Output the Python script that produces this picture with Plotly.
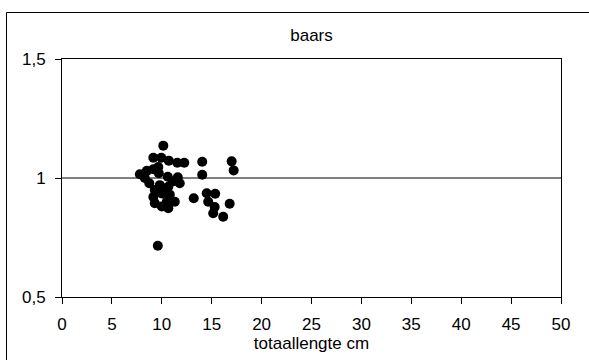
import plotly.graph_objects as go

title = "baars"
x_title = "totaallengte cm"
x_ticks = [0, 5, 10, 15, 20, 25, 30, 35, 40, 45, 50]
y_ticks = [0.5, 1, 1.5]
ref_level = 1

lengte = [10.15, 9.15, 9.95, 10.7, 11.55, 12.25, 14.05, 17.0, 17.2, 14.05,
          7.8, 8.5, 9.15, 9.65, 10.6, 11.6, 11.1, 11.8, 8.75, 9.8,
          9.3, 10.65, 9.15, 10.0, 10.8, 9.3, 10.5, 11.3, 10.65, 10.0,
          13.2, 14.5, 15.35, 14.65, 15.3, 16.8, 15.15, 16.15, 9.6, 10.15,
          8.3, 9.7]
ratio = [1.136, 1.085, 1.085, 1.073, 1.064, 1.064, 1.068, 1.070, 1.032, 1.014,
         1.016, 1.030, 1.037, 1.046, 1.005, 1.003, 0.985, 0.978, 0.978, 0.970,
         0.950, 0.963, 0.920, 0.935, 0.930, 0.894, 0.900, 0.900, 0.873, 0.880,
         0.915, 0.936, 0.934, 0.900, 0.878, 0.892, 0.852, 0.837, 0.715, 0.955,
         1.000, 1.020]

W, H = 589, 360
L, R, T, B = 62, 561, 59, 297

fig = go.Figure()
fig.add_trace(go.Scatter(
    x=lengte, y=ratio, mode="markers",
    marker=dict(color="black", size=10, line=dict(width=0)),
    showlegend=False, hoverinfo="skip"))

font = dict(family="Liberation Sans, Arial, sans-serif", size=17, color="black")

fig.update_layout(
    width=W, height=H,
    margin=dict(l=L, r=W - R, t=T, b=H - B, pad=0),
    paper_bgcolor="white", plot_bgcolor="white",
    separators=",.",
    font=font,
    title=dict(text=title, x=(L + R) / 2 / W, xanchor="center",
               y=1 - 35 / H, yanchor="middle", font=font),
    xaxis=dict(range=[0, 50], tickvals=x_ticks, showgrid=False, zeroline=False,
               showline=True, linecolor="black", linewidth=1, mirror=True,
               ticks="outside", ticklen=6, tickcolor="black", tickwidth=1,
               tickfont=font, ticklabelstandoff=6,
               title=dict(text=x_title, font=font, standoff=3)),
    yaxis=dict(range=[0.5, 1.5], tickvals=y_ticks, showgrid=False, zeroline=False,
               showline=True, linecolor="black", linewidth=1, mirror=True,
               ticks="outside", ticklen=6, tickcolor="black", tickwidth=1,
               tickfont=font, ticklabelstandoff=6),
)

# horizontal reference line at y = 1
fig.add_shape(type="line", xref="paper", yref="y", x0=0, x1=1,
              y0=ref_level, y1=ref_level, line=dict(color="black", width=1),
              layer="below")

# outer chart-area border (extends past the right/bottom edge)
pw, ph = R - L, B - T
fig.add_shape(type="rect", xref="paper", yref="paper",
              x0=(6.5 - L) / pw, x1=(600 - L) / pw,
              y0=(B - 370) / ph, y1=(B - 12.5) / ph,
              line=dict(color="black", width=1), fillcolor="rgba(0,0,0,0)")

fig.write_html("out.html")
